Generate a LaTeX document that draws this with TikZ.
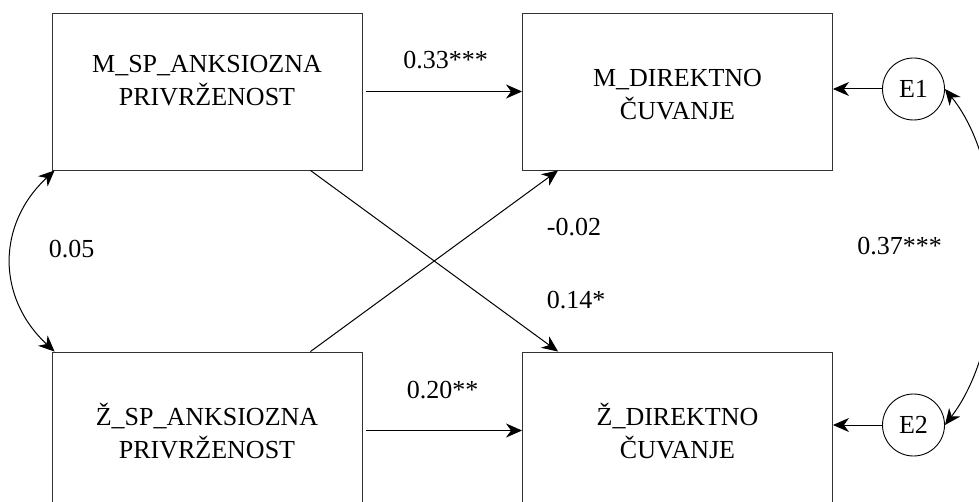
\documentclass[tikz,border=0pt]{standalone}
\usepackage{fontspec}
\setmainfont{Liberation Serif}
\usetikzlibrary{arrows.meta}
\begin{document}
\begin{tikzpicture}[x=1pt,y=-1pt,
  >={Stealth[length=16pt,width=14pt,inset=5pt]},
  every node/.style={font=\fontsize{26}{33}\selectfont},
  varbox/.style={draw=black!80, line width=0.9pt, minimum width=310pt, minimum height=157pt, inner sep=0pt},
  errnode/.style={draw=black, line width=0.9pt, circle, minimum size=62pt, inner sep=0pt},
  txt/.style={align=center, inner sep=0pt},
  coef/.style={inner sep=0pt},
  path1/.style={line width=1pt, ->},
  path2/.style={line width=1pt, <->}
]
\useasboundingbox (0,0) rectangle (979,502);

% boxes
\node[varbox] (msp) at (207,91.5) {};
\node[varbox] (mdir) at (677.5,91.5) {};
\node[varbox] (zsp) at (207,430.5) {};
\node[varbox] (zdir) at (677.5,430.5) {};

% box texts
\node[txt] (msptxt) at (207,81) {M\_SP\_ANKSIOZNA\\PRIVRŽENOST};
\node[txt] (mdirtxt) at (677.5,94.5) {M\_DIREKTNO\\ČUVANJE};
\node[txt] (zsptxt) at (207,431) {Ž\_SP\_ANKSIOZNA\\PRIVRŽENOST};
\node[txt] (zdirtxt) at (677.5,431) {Ž\_DIREKTNO\\ČUVANJE};

% error terms
\node[errnode] (e1) at (913.5,89) {E1};
\node[errnode] (e2) at (913.5,425) {E2};

% regression paths
\draw[path1, shorten <=4pt] (msp.east) -- (mdir.west);
\draw[path1, shorten <=4pt] (zsp.east) -- (zdir.west);
\draw[path1] ([xshift=-52pt]msp.south east) -- ([xshift=36pt]zdir.north west);
\draw[path1] ([xshift=-52pt]zsp.north east) -- ([xshift=36pt]mdir.south west);
\draw[path1] (e1.west) -- (e1.west -| mdir.east);
\draw[path1] (e2.west) -- (e2.west -| zdir.east);

% covariances
\draw[path2] ([xshift=3pt]msp.south west) .. controls +(-58,54) and +(-58,-54) .. ([xshift=3pt]zsp.north west);
\draw[path2] (e1.east) .. controls +(65,80) and +(65,-85) .. (e2.east);

% coefficients
\node[coef] (c033) at (445.5,60.5) {0.33***};
\node[coef] (c020) at (442.5,390) {0.20**};
\node[coef] (cm002) at (574,227) {-0.02};
\node[coef] (c014) at (576,300) {0.14*};
\node[coef] (c005) at (71.5,249) {0.05};
\node[coef] (c037) at (899.5,246) {0.37***};
\end{tikzpicture}
\end{document}
